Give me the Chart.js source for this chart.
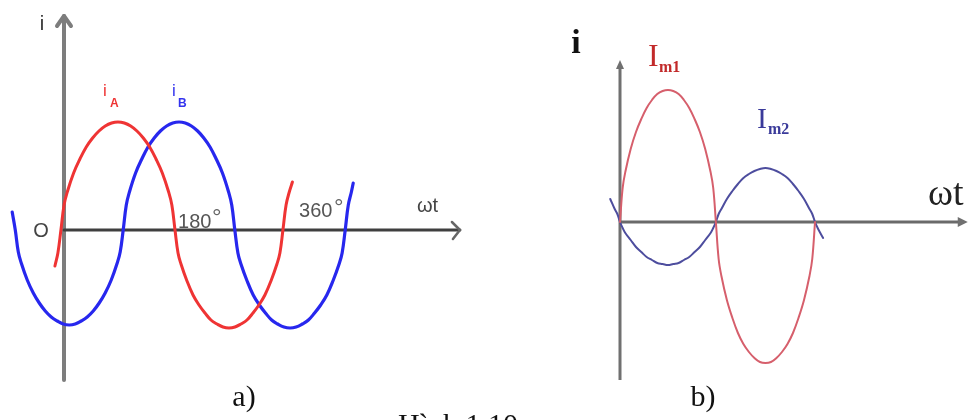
<!DOCTYPE html>
<html>
<head>
<meta charset="utf-8">
<script src="https://cdn.jsdelivr.net/npm/chart.js@4.4.1/dist/chart.umd.min.js"></script>
<style>
  html, body { margin: 0; padding: 0; background: #fff; width: 977px; height: 420px; overflow: hidden; }
  .panel { position: absolute; top: 0; }
</style>
</head>
<body>
<div class="panel" style="left:0;width:540px;height:420px"><canvas id="chartA" width="540" height="420"></canvas></div>
<div class="panel" style="left:540px;width:437px;height:420px"><canvas id="chartB" width="437" height="420"></canvas></div>
<script>
// ---- Panel a): two phase-shifted currents i_A and i_B (angle in degrees, current in relative units)
const iA_deg = [-14.7, -9.9, -5, 0.1, 5.3, 15.6, 25.8, 36.1, 46.4, 56.7, 66.9, 77.2, 87.5,
                97.8, 108.1, 118.3, 128.6, 138.9, 149.2, 159.4, 169.7, 174.9, 180,
                184.9, 189.7, 199.4, 209.2, 218.9, 228.6, 238.3, 248.1, 257.8, 267.5,
                277.2, 286.9, 296.7, 306.4, 316.1, 325.8, 335.6, 345.3, 350.1, 355,
                360.1, 365.3, 370.4];
const iA_val = [-0.36, -0.23, 0, 0.25, 0.38, 0.57, 0.71, 0.83, 0.92, 0.99, 1.04, 1.07, 1.08,
                1.07, 1.04, 0.99, 0.92, 0.83, 0.71, 0.57, 0.38, 0.25, 0,
                -0.23, -0.34, -0.51, -0.65, -0.75, -0.83, -0.90, -0.94, -0.97, -0.98,
                -0.97, -0.94, -0.90, -0.83, -0.75, -0.65, -0.51, -0.34, -0.23, 0,
                0.25, 0.38, 0.48];

const iB_deg = [-84, -79, -74.1, -69.3, -59.6, -49.8, -40.1, -30.4, -20.7, -10.9, -1.2, 8.5,
                18.2, 27.9, 37.7, 47.4, 57.1, 66.8, 76.6, 86.3, 91.1, 96,
                101, 106.1, 116.1, 126.2, 136.2, 146.3, 156.3, 166.4, 176.4, 186.5,
                196.6, 206.6, 216.7, 226.7, 236.8, 246.8, 256.9, 266.9, 272, 277,
                282, 286.9, 296.9, 306.8, 316.8, 326.7, 336.7, 346.6, 356.6, 366.5,
                376.4, 386.4, 396.3, 406.3, 416.2, 426.2, 436.1, 446.1, 451, 456,
                461, 466, 469];
const iB_val = [0.18, 0, -0.22, -0.33, -0.50, -0.63, -0.73, -0.81, -0.87, -0.91, -0.94, -0.95,
                -0.94, -0.91, -0.87, -0.81, -0.73, -0.63, -0.50, -0.33, -0.22, 0,
                0.25, 0.38, 0.57, 0.71, 0.83, 0.92, 0.99, 1.04, 1.07, 1.08,
                1.07, 1.04, 0.99, 0.92, 0.83, 0.71, 0.57, 0.38, 0.25, 0,
                -0.23, -0.34, -0.51, -0.65, -0.75, -0.83, -0.90, -0.94, -0.97, -0.98,
                -0.97, -0.94, -0.90, -0.83, -0.75, -0.65, -0.51, -0.34, -0.23, 0,
                0.25, 0.38, 0.47];

const angleTicks = [180, 360];
const angleTickLabels = ['180', '360'];

// ---- Panel b): currents I_m1 and I_m2 in opposition
const im1_deg = [0, 4.9, 9.8, 19.7, 29.5, 39.3, 49.2, 59, 68.8, 78.7, 88.5,
                 98.3, 108.2, 118, 127.8, 137.7, 147.5, 157.3, 167.2, 172.1, 177,
                 182.1, 187.2, 197.3, 207.5, 217.7, 227.8, 238, 248.2, 258.3, 268.5,
                 278.7, 288.8, 299, 309.2, 319.3, 329.5, 339.7, 349.8, 354.9, 360];
const im1_val = [0, 0.34, 0.50, 0.73, 0.90, 1.03, 1.14, 1.22, 1.28, 1.31, 1.32,
                 1.31, 1.28, 1.22, 1.14, 1.03, 0.90, 0.73, 0.50, 0.34, 0,
                 -0.37, -0.54, -0.78, -0.96, -1.11, -1.22, -1.30, -1.36, -1.40, -1.41,
                 -1.40, -1.36, -1.30, -1.22, -1.11, -0.96, -0.78, -0.54, -0.37, 0];

const im2_deg = [-18, -9.8, -4.9, 0, 4.9, 9.8, 19.7, 29.5, 39.3, 49.2, 59, 68.8, 78.7, 88.5,
                 98.3, 108.2, 118, 127.8, 137.7, 147.5, 157.3, 167.2, 172.1, 177,
                 182.1, 187.2, 197.3, 207.5, 217.7, 227.8, 238, 248.2, 258.3, 268.5,
                 278.7, 288.8, 299, 309.2, 319.3, 329.5, 339.7, 349.8, 354.9, 360,
                 364.9, 369.8, 375];
const im2_val = [0.23, 0.13, 0.08, 0, -0.06, -0.11, -0.18, -0.25, -0.30, -0.35, -0.38, -0.41, -0.42, -0.43,
                 -0.42, -0.41, -0.38, -0.35, -0.30, -0.25, -0.18, -0.11, -0.06, 0,
                 0.08, 0.13, 0.23, 0.31, 0.38, 0.44, 0.48, 0.51, 0.53, 0.54,
                 0.53, 0.51, 0.48, 0.44, 0.38, 0.31, 0.23, 0.13, 0.08, 0,
                 -0.06, -0.11, -0.16];

// ---- helpers
const toPoints = (xs, ys) => xs.map((x, i) => ({ x: x, y: ys[i] }));

function curve(xs, ys, color, width) {
  return {
    data: toPoints(xs, ys),
    borderColor: color,
    borderWidth: width,
    pointRadius: 0,
    fill: false,
    tension: 0.4,
    borderCapStyle: 'round',
    borderJoinStyle: 'round'
  };
}

function plainOptions(xmin, xmax, ymin, ymax) {
  return {
    responsive: false,
    animation: false,
    events: [],
    layout: { padding: 0 },
    plugins: { legend: { display: false }, tooltip: { enabled: false } },
    scales: {
      x: { type: 'linear', min: xmin, max: xmax, display: false },
      y: { type: 'linear', min: ymin, max: ymax, display: false }
    }
  };
}

function line(ctx, x1, y1, x2, y2) {
  ctx.beginPath(); ctx.moveTo(x1, y1); ctx.lineTo(x2, y2); ctx.stroke();
}

function text(ctx, s, x, y, font, color, align) {
  ctx.font = font;
  ctx.fillStyle = color;
  ctx.textAlign = align || 'left';
  ctx.textBaseline = 'alphabetic';
  ctx.fillText(s, x, y);
}

// ---- Panel a) geometry: 0.6167 px per degree, 100 px per unit of current
const A_PX_DEG = 0.6167, A_ORIGIN_X = 64, A_ORIGIN_Y = 230, A_W = 540, A_H = 420;

const axesA = {
  id: 'axesA',
  beforeDatasetsDraw(chart) {
    const ctx = chart.ctx, xs = chart.scales.x, ys = chart.scales.y;
    const x0 = xs.getPixelForValue(0), y0 = ys.getPixelForValue(0);
    const yTop = ys.getPixelForValue(2.15), yBot = ys.getPixelForValue(-1.50);
    const xEnd = xs.getPixelForValue(642);
    ctx.save();
    ctx.lineCap = 'round';
    ctx.lineJoin = 'round';
    // vertical axis i with open arrowhead
    ctx.strokeStyle = '#7d7d7d';
    ctx.lineWidth = 4;
    line(ctx, x0, yBot, x0, yTop + 1);
    ctx.beginPath();
    ctx.moveTo(x0 - 7, yTop + 11); ctx.lineTo(x0, yTop + 1); ctx.lineTo(x0 + 7, yTop + 11);
    ctx.stroke();
    // horizontal axis ωt with open arrowhead
    ctx.strokeStyle = '#3f3f3f';
    ctx.lineWidth = 3;
    line(ctx, x0, y0, xEnd, y0);
    ctx.lineWidth = 2.5;
    ctx.strokeStyle = '#666';
    ctx.beginPath();
    ctx.moveTo(xEnd - 8, y0 - 8); ctx.lineTo(xEnd, y0); ctx.lineTo(xEnd - 7, y0 + 9);
    ctx.stroke();
    ctx.restore();
  },
  afterDatasetsDraw(chart) {
    const ctx = chart.ctx, xs = chart.scales.x, ys = chart.scales.y;
    const x0 = xs.getPixelForValue(0), y0 = ys.getPixelForValue(0);
    ctx.save();
    text(ctx, 'i', x0 - 22, 30, '20px "Liberation Sans", Arial, sans-serif', '#333', 'center');
    text(ctx, 'O', x0 - 23, y0 + 7, '20px "Liberation Sans", Arial, sans-serif', '#444', 'center');
    // curve names
    text(ctx, 'i', 105, 96, '17px "Liberation Sans", Arial, sans-serif', '#ee3333', 'center');
    text(ctx, 'A', 110, 107, 'bold 12px "Liberation Sans", Arial, sans-serif', '#ee3333');
    text(ctx, 'i', 174, 96, '17px "Liberation Sans", Arial, sans-serif', '#3333ee', 'center');
    text(ctx, 'B', 178, 107, 'bold 12px "Liberation Sans", Arial, sans-serif', '#3333ee');
    // angle marks
    const tickOffsets = [[3, -2, 37, -15], [13, -13, 48, -25]];
    angleTicks.forEach((deg, k) => {
      const px = xs.getPixelForValue(deg);
      const o = tickOffsets[k];
      text(ctx, angleTickLabels[k], px + o[0], y0 + o[1], '20px "Liberation Sans", Arial, sans-serif', '#555');
      text(ctx, '°', px + o[2], y0 + o[3] + 10, '24px "Liberation Sans", Arial, sans-serif', '#666');
    });
    text(ctx, 'ωt', 417, y0 - 18, '20px "Liberation Sans", Arial, sans-serif', '#444');
    text(ctx, 'a)', 244, 406, '30px "Liberation Serif", "Times New Roman", serif', '#111', 'center');
    text(ctx, 'Hình 1.10', 398, 434, '30px "Liberation Serif", "Times New Roman", serif', '#111');
    ctx.restore();
  }
};

new Chart(document.getElementById('chartA'), {
  type: 'line',
  data: {
    datasets: [
      curve(iA_deg, iA_val, '#ef3434', 3),
      curve(iB_deg, iB_val, '#2727ee', 3.2)
    ]
  },
  options: plainOptions(
    -A_ORIGIN_X / A_PX_DEG, (A_W - A_ORIGIN_X) / A_PX_DEG,
    (A_ORIGIN_Y - A_H) / 100, A_ORIGIN_Y / 100),
  plugins: [axesA]
});

// ---- Panel b) geometry: 0.5417 px per degree, 100 px per unit of current
const B_PX_DEG = 0.5417, B_ORIGIN_X = 80, B_ORIGIN_Y = 222, B_W = 437, B_H = 420;

const axesB = {
  id: 'axesB',
  beforeDatasetsDraw(chart) {
    const ctx = chart.ctx, xs = chart.scales.x, ys = chart.scales.y;
    const x0 = xs.getPixelForValue(0), y0 = ys.getPixelForValue(0);
    const yTop = ys.getPixelForValue(1.62), yBot = ys.getPixelForValue(-1.58);
    const xEnd = xs.getPixelForValue(642);
    ctx.save();
    ctx.strokeStyle = '#707070';
    ctx.fillStyle = '#707070';
    ctx.lineWidth = 3;
    line(ctx, x0, yBot, x0, yTop + 6);
    ctx.beginPath();
    ctx.moveTo(x0 - 4, yTop + 9); ctx.lineTo(x0, yTop); ctx.lineTo(x0 + 4, yTop + 9);
    ctx.closePath(); ctx.fill();
    ctx.strokeStyle = '#6a6a6a';
    line(ctx, x0, y0, xEnd - 8, y0);
    ctx.beginPath();
    ctx.moveTo(xEnd - 10, y0 - 5); ctx.lineTo(xEnd, y0); ctx.lineTo(xEnd - 10, y0 + 5);
    ctx.closePath(); ctx.fill();
    ctx.restore();
  },
  afterDatasetsDraw(chart) {
    const ctx = chart.ctx;
    ctx.save();
    text(ctx, 'i', 36, 53, 'bold 34px "Liberation Serif", "Times New Roman", serif', '#111', 'center');
    text(ctx, 'I', 108, 66, '32px "Liberation Serif", "Times New Roman", serif', '#c22a2a');
    text(ctx, 'm1', 119, 72, 'bold 16px "Liberation Serif", "Times New Roman", serif', '#c22a2a');
    text(ctx, 'I', 217, 128, '30px "Liberation Serif", "Times New Roman", serif', '#3a3a9a');
    text(ctx, 'm2', 228, 134, 'bold 16px "Liberation Serif", "Times New Roman", serif', '#3a3a9a');
    text(ctx, 'ωt', 388, 205, '38px "Liberation Serif", "Times New Roman", serif', '#222');
    text(ctx, 'b)', 163, 406, '30px "Liberation Serif", "Times New Roman", serif', '#111', 'center');
    ctx.restore();
  }
};

new Chart(document.getElementById('chartB'), {
  type: 'line',
  data: {
    datasets: [
      curve(im1_deg, im1_val, '#d65f6c', 2),
      curve(im2_deg, im2_val, '#4d4d9e', 2)
    ]
  },
  options: plainOptions(
    -B_ORIGIN_X / B_PX_DEG, (B_W - B_ORIGIN_X) / B_PX_DEG,
    (B_ORIGIN_Y - B_H) / 100, B_ORIGIN_Y / 100),
  plugins: [axesB]
});
</script>
</body>
</html>
